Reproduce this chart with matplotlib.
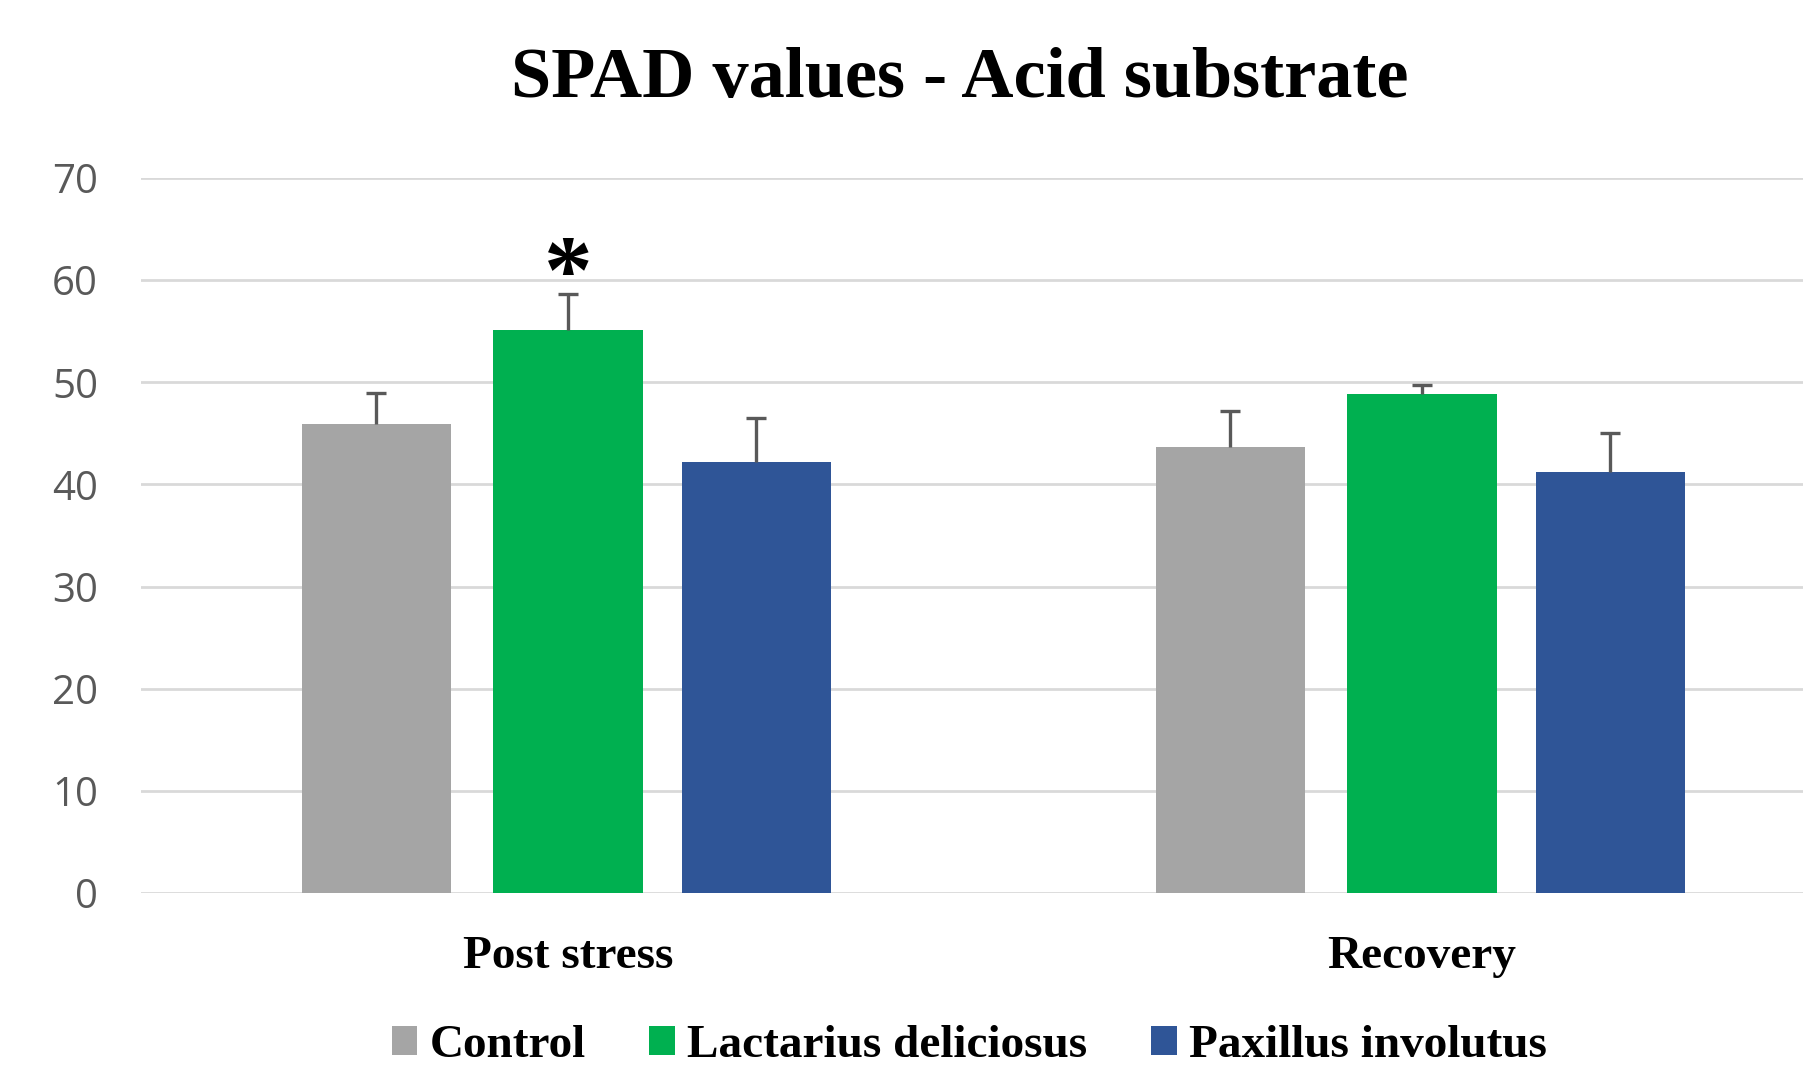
import matplotlib
matplotlib.use("Agg")
import matplotlib.pyplot as plt
from matplotlib.patches import Patch
import numpy as np

categories = ["Post stress", "Recovery"]
series = ["Control", "Lactarius deliciosus", "Paxillus involutus"]
control = [45.9, 43.7]
lactarius = [55.1, 48.9]
paxillus = [42.2, 41.2]
control_err = [3.1, 3.5]
lactarius_err = [3.5, 0.8]
paxillus_err = [4.3, 3.8]
yticks = [0, 10, 20, 30, 40, 50, 60, 70]
title = "SPAD values - Acid substrate"
significance = "*"

colors = ["#a5a5a5", "#00b050", "#2f5597"]
values = [control, lactarius, paxillus]
errors = [control_err, lactarius_err, paxillus_err]

serif = ["Liberation Serif", "DejaVu Serif"]

fig = plt.figure(figsize=(18.03, 10.71), dpi=100)
ax = fig.add_axes([141 / 1803, (1071 - 893) / 1071, (1849 - 141) / 1803, (893 - 178) / 1071])

x = np.arange(len(categories))
width = 0.1745
offsets = [-0.2245, 0.0, 0.2205]
for vals, errs, col, off, name in zip(values, errors, colors, offsets, series):
    ax.bar(x + off, vals, width, color=col, label=name, zorder=2)
    eb = ax.errorbar(x + off, vals, yerr=[np.zeros(len(errs)), errs], fmt="none",
                     ecolor="#595959", elinewidth=2.4, capsize=7, capthick=2.4, zorder=3)
    # only the upper cap (plus-only error bar)
    eb[1][0].set_visible(False)

# significance marker above Lactarius, Post stress
ax.text(x[0] + offsets[1], lactarius[0] + lactarius_err[0] + 1.6, significance,
        ha="center", va="center", fontsize=70, fontweight="bold",
        family=serif, color="black", zorder=4)

ax.set_xlim(-0.5, 1.5)
ax.set_ylim(0, 70)
ax.set_yticks(yticks)
ax.set_yticklabels([str(t) for t in yticks])
ax.set_xticks(x)
ax.set_xticklabels(categories, fontsize=34, fontweight="bold", family=serif)
ax.tick_params(axis="y", length=0, pad=31, labelsize=29, labelcolor="#595959")
ax.tick_params(axis="x", length=0, pad=31)
for lab in ax.get_yticklabels():
    lab.set_family(["Open Sans", "DejaVu Sans"])
ax.yaxis.grid(True, color="#d9d9d9", linewidth=2.0, zorder=0)
ax.set_axisbelow(True)
for s in ax.spines.values():
    s.set_visible(False)

fig.text(960 / 1803, 1 - 79 / 1071, title, ha="center", va="center",
         fontsize=52, fontweight="bold", family=serif)

handles = [Patch(facecolor=c, edgecolor="none") for c in colors]
fig.legend(handles, series, loc="center", bbox_to_anchor=(969 / 1803, 1 - 1046 / 1071),
           ncol=3, frameon=False, handlelength=0.55, handleheight=0.55, handletextpad=0.25,
           columnspacing=1.35, borderpad=0.1, prop={"family": serif, "weight": "bold", "size": 34})

fig.savefig("out.png", dpi=100, facecolor="white")
